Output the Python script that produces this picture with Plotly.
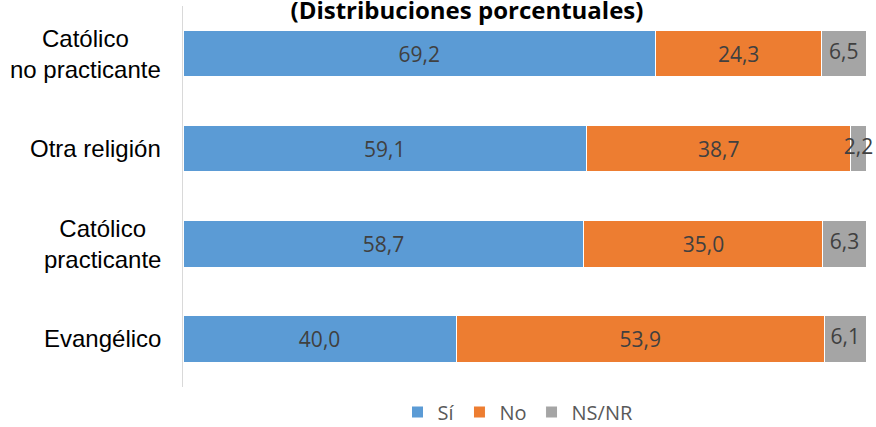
import plotly.graph_objects as go

# Categories (bottom to top) and series values, in percent
categories = ["Evangélico", "Católico<br>practicante", "Otra religión", "Católico<br>no practicante"]
si_values = [40.0, 58.7, 59.1, 69.2]
no_values = [53.9, 35.0, 38.7, 24.3]
nsnr_values = [6.1, 6.3, 2.2, 6.5]
series_names = ["Sí", "No", "NS/NR"]
title_text = "(Distribuciones porcentuales)"

colors = ["#5B9BD5", "#ED7D31", "#A5A5A5"]
label_font = dict(family="Open Sans", size=21, color="#404040")

fig = go.Figure()

for name, vals, color in zip(series_names, [si_values, no_values, nsnr_values], colors):
  fig.add_trace(go.Bar(
    y=categories,
    x=vals,
    name=name,
    orientation="h",
    marker=dict(color=color, line=dict(color="white", width=1)),
    texttemplate="%{x:.1f}" if name != "NS/NR" else None,
    textposition="inside" if name != "NS/NR" else "none",
    insidetextanchor="middle",
    textangle=0,
    textfont=label_font,
  ))

# NS/NR labels: the thin segments are too narrow for bar text, so draw them
# as a text trace centred on each grey segment (may overflow like the original)
nsnr_mid = [s + n + r / 2 for s, n, r in zip(si_values, no_values, nsnr_values)]
fig.add_trace(go.Scatter(
  x=nsnr_mid, y=categories,
  mode="text",
  text=[f"{v:.1f}".replace(".", ",") for v in nsnr_values],
  textposition="middle center",
  textfont=label_font,
  showlegend=False, hoverinfo="skip",
  cliponaxis=False
))

# Category labels as annotations so multi-line text is centred like the original
for cat in categories:
  fig.add_annotation(
    x=0, xref="paper", y=cat, yref="y",
    text=cat, showarrow=False,
    xanchor="right", xshift=-20, align="center",
    font=dict(family="Liberation Sans", size=24, color="#000000")
  )

fig.update_layout(
  width=876, height=427,
  barmode="stack",
  bargap=0.51,
  separators=",.",
  plot_bgcolor="white",
  paper_bgcolor="white",
  margin=dict(l=183, r=10, t=6, b=37),
  title=dict(
    text="<b>" + title_text + "</b>",
    x=467 / 876, xanchor="center",
    y=1 - 11 / 427, yanchor="middle",
    font=dict(family="Open Sans", size=24, color="#000000")
  ),
  xaxis=dict(range=[0, 100], showticklabels=False, showgrid=False, zeroline=False, showline=False),
  yaxis=dict(showticklabels=False, showgrid=False, zeroline=False,
             showline=True, linecolor="#D9D9D9", linewidth=1, ticks=""),
  legend=dict(
    orientation="h",
    traceorder="normal",
    x=518 / 876, xref="container", xanchor="center",
    y=1 - 412 / 427, yref="container", yanchor="middle",
    font=dict(family="Open Sans", size=20, color="#595959"),
    itemwidth=30
  ),
  showlegend=True
)

fig.write_html("out.html", config={"displayModeBar": False},
               post_script="document.body.style.margin='0';")
